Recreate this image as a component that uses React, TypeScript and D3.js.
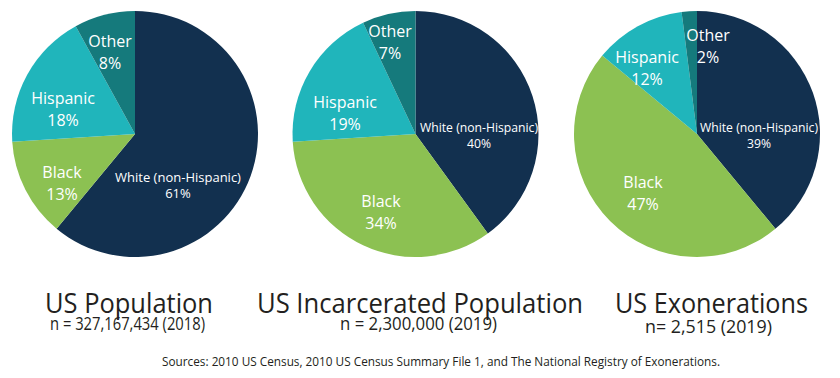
import React from "react";
import * as d3 from "d3";

const categories = ["White (non-Hispanic)", "Black", "Hispanic", "Other"];
const usPopulation = [61, 13, 18, 8];
const usIncarcerated = [40, 34, 19, 7];
const usExonerations = [39, 47, 12, 2];
const titles = ["US Population", "US Incarcerated Population", "US Exonerations"];
const subtitles = ["n = 327,167,434 (2018)", "n = 2,300,000 (2019)", "n= 2,515 (2019)"];
const sourceText =
  "Sources: 2010 US Census, 2010 US Census Summary File 1, and The National Registry of Exonerations.";

const colors = ["#12304f", "#8cc152", "#20b5bb", "#157a7c"];

// layout (positions only)
const W = 840;
const H = 378;
const centers = [135, 415.5, 697];
const cy = 134;
const radius = 123;
// label offsets relative to pie centre: [dx, dy] per category
const labelOffsets = [
  [[43, 48], [-73, 44], [-72, -30], [-25, -87]],
  [[63.5, -2], [-34.5, 73], [-70.5, -26], [-25.5, -97]],
  [[62, -2], [-54, 54], [-50, -71], [11, -93]],
];
const whiteFont = [13, 12.2, 12.2];
const titleLayout = [
  { x: 129, w: 168 },
  { x: 420, w: 326 },
  { x: 711.5, w: 193 },
];
const subLayout = [
  { x: 127.5, w: 155, y: 330 },
  { x: 418.5, w: 157, y: 330 },
  { x: 708.5, w: 127, y: 333 },
];

const datasets = [usPopulation, usIncarcerated, usExonerations];

export default function App() {
  const pie = d3
    .pie<number>()
    .sort(null)
    .value((d) => d)
    .startAngle(0)
    .endAngle(2 * Math.PI);
  const arc = d3.arc<d3.PieArcDatum<number>>().innerRadius(0).outerRadius(radius);
  const color = d3.scaleOrdinal<string, string>().domain(categories).range(colors);

  return (
    <svg
      width={W}
      height={H}
      style={{ position: "absolute", left: 0, top: 0, background: "#fff" }}
      fontFamily="'Open Sans', sans-serif"
    >
      {datasets.map((data, pi) => {
        const arcs = pie(data);
        return (
          <g key={pi} transform={`translate(${centers[pi]},${cy})`}>
            {arcs.map((a, i) => (
              <path key={i} d={arc(a) || ""} fill={color(categories[i])} />
            ))}
            {arcs.map((a, i) => {
              const [dx, dy] = labelOffsets[pi][i];
              const isWhite = i === 0;
              const fs = isWhite ? whiteFont[pi] : 16;
              const gap = isWhite ? 16 : 21.5;
              return (
                <text
                  key={"t" + i}
                  x={dx}
                  y={dy}
                  textAnchor="middle"
                  fill="#ffffff"
                  fontSize={fs}
                >
                  <tspan x={dx} y={dy}>{categories[i]}</tspan>
                  <tspan x={dx} y={dy + gap}>{`${data[i]}%`}</tspan>
                </text>
              );
            })}
          </g>
        );
      })}
      {titles.map((t, i) => (
        <text
          key={"title" + i}
          x={titleLayout[i].x}
          y={313}
          textAnchor="middle"
          fontSize={28}
          fill="#231f20"
          textLength={titleLayout[i].w}
          lengthAdjust="spacingAndGlyphs"
        >
          {t}
        </text>
      ))}
      {subtitles.map((t, i) => (
        <text
          key={"sub" + i}
          x={subLayout[i].x}
          y={subLayout[i].y}
          textAnchor="middle"
          fontSize={18}
          fill="#231f20"
          textLength={subLayout[i].w}
          lengthAdjust="spacingAndGlyphs"
        >
          {t}
        </text>
      ))}
      <text
        x={441}
        y={366}
        textAnchor="middle"
        fontSize={13}
        fill="#231f20"
        textLength={558}
        lengthAdjust="spacingAndGlyphs"
      >
        {sourceText}
      </text>
    </svg>
  );
}
